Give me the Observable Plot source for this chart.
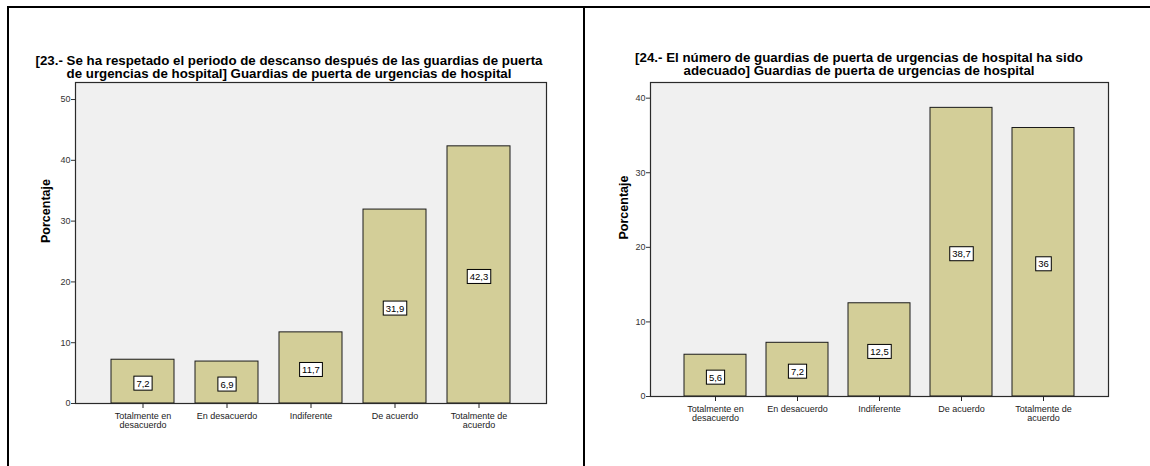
<!DOCTYPE html>
<html><head><meta charset="utf-8">
<script src="https://cdn.jsdelivr.net/npm/d3@7"></script>
<script src="https://cdn.jsdelivr.net/npm/@observablehq/plot@0.6"></script>
<style>
body{margin:0;background:#fff;font-family:"Liberation Sans",Arial,sans-serif;}
#root{position:relative;width:1150px;height:466px;overflow:hidden;background:#fff;}
.title{position:absolute;font-weight:bold;font-size:13.3px;line-height:13px;text-align:center;color:#000;white-space:nowrap;}
.border{position:absolute;background:#000;z-index:5;}
.chart{position:absolute;}
</style></head><body><div id="root"></div>
<script>
const categories = ["Totalmente en desacuerdo","En desacuerdo","Indiferente","De acuerdo","Totalmente de acuerdo"];
const tickLabels = ["Totalmente en\ndesacuerdo","En desacuerdo","Indiferente","De acuerdo","Totalmente de\nacuerdo"];
const values23 = [7.2, 6.9, 11.7, 31.9, 42.3];
const values24 = [5.6, 7.2, 12.5, 38.7, 36];
const title23 = ["[23.- Se ha respetado el periodo de descanso después de las guardias de puerta","de urgencias de hospital] Guardias de puerta de urgencias de hospital"];
const title24 = ["[24.- El número de guardias de puerta de urgencias de hospital ha sido","adecuado] Guardias de puerta de urgencias de hospital"];
const yTicks23 = [0,10,20,30,40,50];
const yTicks24 = [0,10,20,30,40];
const yMax23 = 52.8;
const yMax24 = 42.1;
const yLabel = "Porcentaje";

const root = document.getElementById("root");

function addDiv(cls, style, html) {
  const d = document.createElement("div");
  d.className = cls;
  Object.assign(d.style, style);
  if (html != null) d.innerHTML = html;
  root.appendChild(d);
  return d;
}

function makeChart(values, ticks, yMax, dims) {
  const data = categories.map((c, i) => ({cat: c, value: values[i], label: String(values[i]).replace(".", ",")}));
  const svg = Plot.plot({
    width: dims.width, height: dims.height,
    marginLeft: dims.marginLeft, marginRight: dims.marginRight,
    marginTop: dims.marginTop, marginBottom: dims.marginBottom,
    style: {fontFamily: "'Liberation Sans', Arial, sans-serif", fontSize: "9px", color: "#222", background: "transparent", overflow: "visible"},
    x: {domain: categories, paddingInner: 0.25, paddingOuter: 0.4, label: null},
    y: {domain: [0, yMax], label: null},
    marks: [
      Plot.frame({fill: "#f0f0f0"}),
      Plot.barY(data, {x: "cat", y: "value", fill: "#d3ce98", stroke: "#1a1a1a", strokeWidth: 1}),
      Plot.frame({stroke: "#2a2a2a", strokeWidth: 1.2}),
      Plot.axisY({ticks, tickSize: 4, tickPadding: 1, label: null, fill: "#333", stroke: "#333"}),
      Plot.axisX({tickSize: 5, tickPadding: 3, label: null, lineHeight: 1.1, tickFormat: (d) => tickLabels[categories.indexOf(d)], fill: "#222", stroke: "#222"}),
      Plot.text(data, {
        x: "cat", y: (d) => d.value / 2, text: "label", fontSize: 9.5, fill: "#000", dy: 2,
        render(index, scales, vals, dimensions, context, next) {
          const g = next(index, scales, vals, dimensions, context);
          g.setAttribute("class", "vlabels");
          return g;
        }
      }),
      Plot.text([yLabel], {text: (d) => d, frameAnchor: "left", rotate: -90, dx: -dims.labelOffset, fontSize: 12.5, fontWeight: "bold", fill: "#000"})
    ]
  });
  return svg;
}

function boxLabels(svg) {
  svg.querySelectorAll("g.vlabels text").forEach((t) => {
    const b = t.getBBox();
    const r = document.createElementNS("http://www.w3.org/2000/svg", "rect");
    r.setAttribute("x", b.x - 2.5);
    r.setAttribute("y", b.y - 1.5);
    r.setAttribute("width", b.width + 5);
    r.setAttribute("height", b.height + 3);
    r.setAttribute("fill", "#fff");
    r.setAttribute("stroke", "#000");
    r.setAttribute("stroke-width", 1);
    const tr = t.getAttribute("transform");
    if (tr) r.setAttribute("transform", tr);
    t.parentNode.insertBefore(r, t);
  });
}

// Left chart
const c1 = makeChart(values23, yTicks23, yMax23, {width: 583, height: 386, marginLeft: 75, marginRight: 37, marginTop: 2, marginBottom: 63, labelOffset: 30});
const w1 = addDiv("chart", {left: "0px", top: "80px"});
w1.appendChild(c1);
boxLabels(c1);

// Right chart
const c2 = makeChart(values24, yTicks24, yMax24, {width: 567, height: 386, marginLeft: 67, marginRight: 42, marginTop: 2, marginBottom: 70, labelOffset: 27});
const w2 = addDiv("chart", {left: "583px", top: "80px"});
w2.appendChild(c2);
boxLabels(c2);

// Titles
addDiv("title", {left: "0px", width: "578px", top: "54px"}, title23.join("<br>"));
addDiv("title", {left: "583px", width: "552px", top: "51px"}, title24.join("<br>"));

// Borders
addDiv("border", {left: "7px", top: "6px", width: "1143px", height: "2px"});
addDiv("border", {left: "7px", top: "6px", width: "2px", height: "460px"});
addDiv("border", {left: "583px", top: "6px", width: "2px", height: "460px"});
</script>
</body></html>
